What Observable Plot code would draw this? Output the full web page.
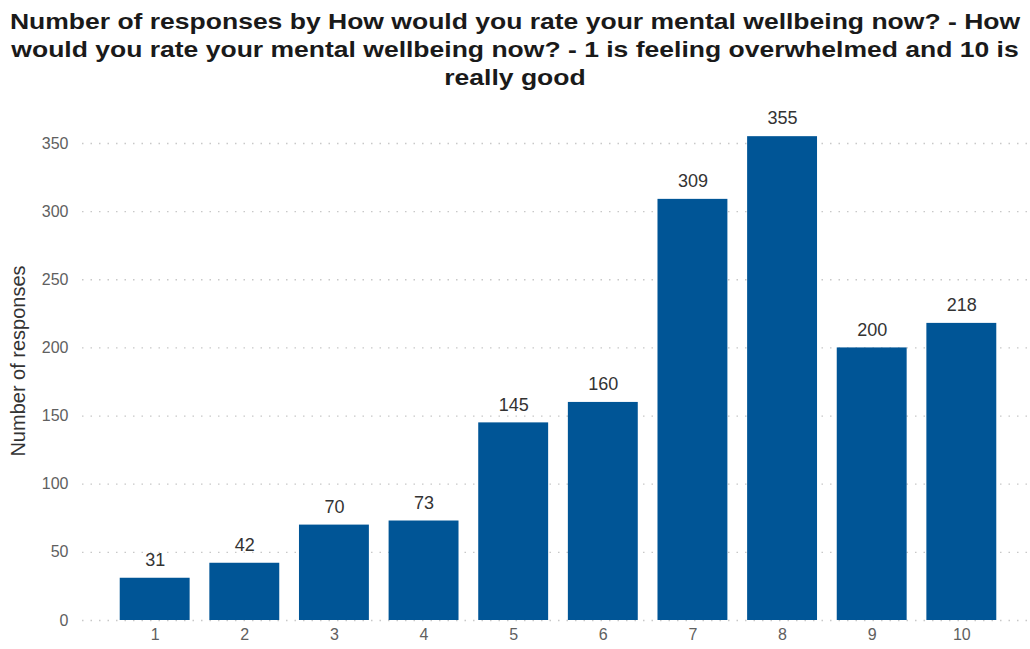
<!DOCTYPE html>
<html>
<head>
<meta charset="utf-8">
<script src="https://cdn.jsdelivr.net/npm/d3@7"></script>
<script src="https://cdn.jsdelivr.net/npm/@observablehq/plot@0.6"></script>
<style>
  body { margin: 0; background: #fff; font-family: "Liberation Sans", Arial, sans-serif; }
  #titlewrap { height: 92px; width: 1030px; overflow: hidden; }
  #title { box-sizing: border-box; width: 855px; padding-top: 8px; text-align: center; font-weight: bold; font-size: 22px; line-height: 28px; color: #1a1a1a; transform: scaleX(1.2047); transform-origin: 0 0; }
</style>
</head>
<body>
<div id="titlewrap"><div id="title">Number of responses by How would you rate your mental wellbeing now? - How would you rate your mental wellbeing now? - 1 is feeling overwhelmed and 10 is really good</div></div>
<div id="chart"></div>
<script>
const ratings = ["1","2","3","4","5","6","7","8","9","10"];
const counts = [31, 42, 70, 73, 145, 160, 309, 355, 200, 218];
const yTicks = [0, 50, 100, 150, 200, 250, 300, 350];
const yLabel = "Number of responses";

const data = ratings.map((r, i) => ({rating: r, count: counts[i]}));

const chart = Plot.plot({
  width: 1030,
  height: 557,
  marginLeft: 82,
  marginRight: 0,
  marginTop: 21,
  marginBottom: 29,
  style: {fontFamily: "'Liberation Sans', Arial, sans-serif", background: "#fff"},
  x: {type: "band", domain: ratings, range: [100, 1016], padding: 0.22, round: false, label: null},
  y: {domain: [0, 372], label: null},
  marks: [
    Plot.ruleY(yTicks, {stroke: "#c8c8c8", strokeWidth: 1.3, strokeDasharray: "1.5,7"}),
    Plot.barY(data, {x: "rating", y: "count", fill: "#005596"}),
    Plot.text(data, {x: "rating", y: "count", text: d => String(d.count), dy: -18, lineAnchor: "middle", fontSize: 18, fill: "#333"}),
    Plot.axisX({tickSize: 0, tickPadding: 8, fontSize: 16, color: "#606060", label: null}),
    Plot.axisY(yTicks, {tickSize: 0, tickPadding: 14, fontSize: 16, color: "#606060", label: null}),
    Plot.text([yLabel], {frameAnchor: "left", rotate: -90, dx: -64, dy: -6, fontSize: 20, fill: "#333", textAnchor: "middle", lineAnchor: "middle"})
  ]
});
document.getElementById("chart").appendChild(chart);
</script>
</body>
</html>
